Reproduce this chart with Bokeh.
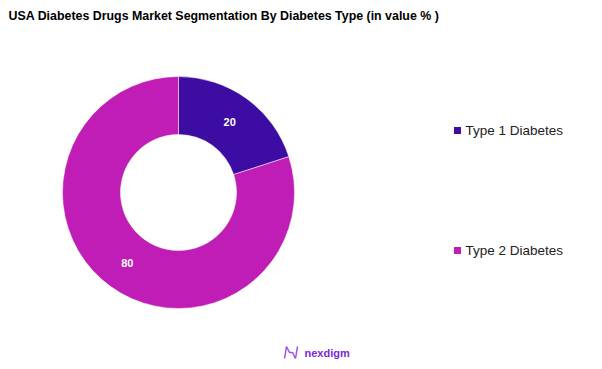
import math
from bokeh.plotting import figure
from bokeh.models import ColumnDataSource, Range1d
from bokeh.core.properties import value
from bokeh.embed import file_html
from bokeh.resources import INLINE

title = "USA Diabetes Drugs Market Segmentation By Diabetes Type (in value % )"
categories = ["Type 1 Diabetes", "Type 2 Diabetes"]
values = [20, 80]
colors = ["#3d0ca3", "#bf1db5"]

W, H = 602, 369
p = figure(width=W, height=H, output_backend="svg", toolbar_location=None,
           x_range=Range1d(0, W), y_range=Range1d(0, H), min_border=0,
           outline_line_color=None, background_fill_color="white")
p.axis.visible = False
p.grid.visible = False

cx, cy = 178, H - 192
r_out, r_in = 116, 58
total = sum(values)
ends, starts, lx, ly = [], [], [], []
acc = 0.0
for v in values:
    a0 = math.pi / 2 - 2 * math.pi * acc / total
    acc += v
    a1 = math.pi / 2 - 2 * math.pi * acc / total
    starts.append(a1)
    ends.append(a0)
    mid = (a0 + a1) / 2
    rm = (r_out + r_in) / 2
    lx.append(cx + rm * math.cos(mid))
    ly.append(cy + rm * math.sin(mid))

src = ColumnDataSource(dict(start=starts, end=ends, color=colors,
                            lx=lx, ly=ly, lab=[str(v) for v in values],
                            cat=categories))
p.annular_wedge(x=cx, y=cy, inner_radius=r_in, outer_radius=r_out,
                inner_radius_units="screen", outer_radius_units="screen",
                start_angle="start", end_angle="end", fill_color="color",
                line_color="white", line_width=0.5, source=src)
p.text(x="lx", y="ly", text="lab", source=src, text_color="white",
       text_font=value("Liberation Sans"), text_font_size="11px",
       text_font_style="bold", text_align="center", text_baseline="middle")

# legend
leg_y = [H - 130, H - 250]
lsrc = ColumnDataSource(dict(x=[457, 457], y=leg_y, color=colors, cat=categories,
                             tx=[465, 465]))
p.scatter(x="x", y="y", marker="square", size=7, fill_color="color",
          line_color=None, source=lsrc)
p.text(x="tx", y="y", text="cat", source=lsrc, text_color="#222222",
       text_font=value("Liberation Sans"), text_font_size="13.5px",
       text_align="left", text_baseline="middle")

# title
p.text(x=[8], y=[H - 15], text=[title], text_color="#000000",
       text_font=value("Liberation Sans"), text_font_size="12.4px",
       text_font_style="bold", text_align="left", text_baseline="middle")

# logo
p.text(x=[304], y=[H - 352], text=["nexdigm"], text_color="#7a2ad6",
       text_font=value("Liberation Sans"), text_font_size="11px",
       text_font_style="bold", text_align="left", text_baseline="middle")
p.line(x=[284, 286, 289, 292, 295, 297], y=[H - 358, H - 346, H - 352, H - 352, H - 358, H - 346],
       line_color="#a050e0", line_width=1.5)

open("out.html", "w").write(file_html(p, INLINE))
